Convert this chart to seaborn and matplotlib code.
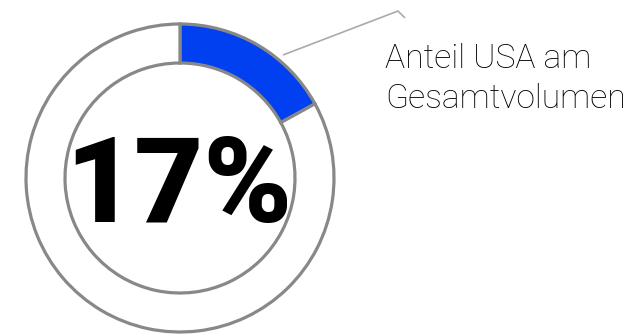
import matplotlib
matplotlib.use("Agg")
import matplotlib.pyplot as plt
import seaborn as sns

# Share of the USA in total volume
segments = ["USA", "Übrige"]
shares = [17, 83]
segment_colors = ["#0040F0", "#FFFFFF"]
caption_lines = ["Anteil USA am", "Gesamtvolumen"]

sns.set_theme(style="white")
plt.rcParams["font.family"] = ["Roboto", "DejaVu Sans"]

W, H = 633, 334
fig = plt.figure(figsize=(W / 100, H / 100), dpi=100)
ax = fig.add_axes([0, 0, 1, 1])

cx, cy = 180, H - 178
r_out, ring = 154, 39

ax.pie(
    shares,
    colors=segment_colors,
    startangle=90,
    counterclock=False,
    center=(cx, cy),
    radius=r_out,
    wedgeprops=dict(width=ring, edgecolor="#888888", linewidth=2.3),
)

# Big percentage in the middle of the ring
ax.text(cx - 1, H - 222, f"{shares[0]}%", ha="center", va="baseline",
        fontsize=86, fontweight="heavy", color="#000000")

# Leader line from the highlighted segment to the caption
lx = [283, 398, 405]
ly = [H - 55, H - 11, H - 18]
ax.plot(lx, ly, color="#AAAAAA", linewidth=1.2, solid_capstyle="butt")

ax.text(385, H - 68, caption_lines[0], ha="left", va="baseline",
        fontsize=24.2, fontweight="light", color="#000000")
ax.text(385, H - 108, caption_lines[1], ha="left", va="baseline",
        fontsize=24.2, fontweight="light", color="#000000")

ax.set_xlim(0, W)
ax.set_ylim(0, H)
ax.set_aspect("equal", adjustable="box")
ax.axis("off")

fig.savefig("out.png", dpi=100, facecolor="white")
